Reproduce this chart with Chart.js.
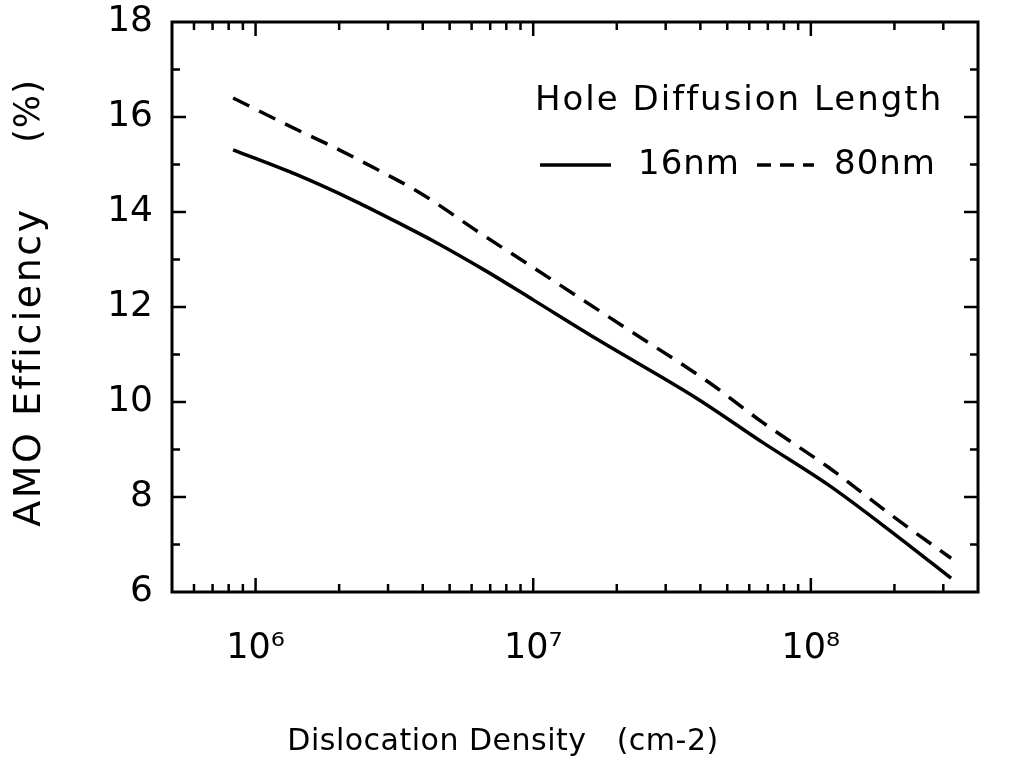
<!DOCTYPE html>
<html lang="en">
<head>
<meta charset="UTF-8">
<title>AMO Efficiency vs Dislocation Density</title>
<script src="https://cdn.jsdelivr.net/npm/chart.js"></script>
<style>
    html, body { margin: 0; padding: 0; background: #fff; }
    canvas { display: block; }
</style>
</head>
<body>
<canvas id="chart" width="1015" height="763"></canvas>
<script>
// data
const density16 = [8.3e5, 1.4e6, 2.3e6, 3.3e6, 4.4e6, 6.8e6, 1.0e7, 1.7e7, 3.9e7, 6.7e7, 1.16e8, 2.0e8, 3.2e8];
const eff16 = [15.31, 14.79, 14.22, 13.76, 13.38, 12.75, 12.15, 11.32, 10.07, 9.15, 8.25, 7.22, 6.29];

const density80 = [8.3e5, 1.46e6, 1.83e6, 2.69e6, 3.94e6, 6.46e6, 1.0e7, 2.1e7, 4.3e7, 6.7e7, 1.16e8, 2.0e8, 3.2e8];
const eff80 = [16.40, 15.69, 15.42, 14.92, 14.39, 13.55, 12.83, 11.60, 10.41, 9.57, 8.62, 7.57, 6.71];

const xTickValues = [1e6, 1e7, 1e8];
const xTickLabels = ['10⁶', '10⁷', '10⁸'];
const yTickValues = [6, 8, 10, 12, 14, 16, 18];

const seriesNames = ['16nm', '80nm'];
const legendTitle = 'Hole Diffusion Length';
const xTitle = 'Dislocation Density\u00A0\u00A0\u00A0(cm-2)';
const yTitle = ['AMO Efficiency', '(%)'];

const FONT = '"DejaVu Sans", Arial, sans-serif';

// inward tick marks, frame, legend and axis titles
const framePlugin = {
    id: 'frame',
    afterDraw(chart) {
        const ctx = chart.ctx;
        const { left, right, top, bottom } = chart.chartArea;
        const xs = chart.scales.x;
        const ys = chart.scales.y;
        ctx.save();
        ctx.strokeStyle = '#000';
        ctx.lineWidth = 3;
        ctx.strokeRect(left, top, right - left, bottom - top);

        ctx.lineWidth = 2.5;
        ctx.beginPath();
        for (let e = 5; e <= 8; e++) {
            for (let k = 1; k <= 9; k++) {
                const v = k * Math.pow(10, e);
                if (v <= xs.min || v >= xs.max) continue;
                const px = xs.getPixelForValue(v);
                const len = k === 1 ? 14 : 8;
                ctx.moveTo(px, bottom);
                ctx.lineTo(px, bottom - len);
                ctx.moveTo(px, top);
                ctx.lineTo(px, top + len);
            }
        }
        for (let v = ys.min + 1; v < ys.max; v++) {
            const py = ys.getPixelForValue(v);
            const len = v % 2 === 0 ? 14 : 8;
            ctx.moveTo(left, py);
            ctx.lineTo(left + len, py);
            ctx.moveTo(right, py);
            ctx.lineTo(right - len, py);
        }
        ctx.stroke();

        // legend
        ctx.fillStyle = '#000';
        ctx.font = '34px ' + FONT;
        ctx.letterSpacing = '2px';
        ctx.textBaseline = 'middle';
        ctx.textAlign = 'left';
        ctx.fillText(legendTitle, 535, 101);
        ctx.letterSpacing = '1px';
        ctx.lineWidth = 3.5;
        ctx.setLineDash([]);
        ctx.beginPath();
        ctx.moveTo(540, 165);
        ctx.lineTo(611, 165);
        ctx.stroke();
        ctx.fillText(seriesNames[0], 638, 165);
        ctx.setLineDash([14, 9]);
        ctx.beginPath();
        ctx.moveTo(757, 165);
        ctx.lineTo(814, 165);
        ctx.stroke();
        ctx.setLineDash([]);
        ctx.fillText(seriesNames[1], 834, 165);

        // x axis title
        ctx.font = '30px ' + FONT;
        ctx.letterSpacing = '0.5px';
        ctx.textAlign = 'center';
        ctx.fillText(xTitle, 503, 742);

        // y axis title, rotated
        ctx.font = '38px ' + FONT;
        ctx.letterSpacing = '2.5px';
        ctx.translate(30, 0);
        ctx.rotate(-Math.PI / 2);
        ctx.fillText(yTitle[0], -367, 0);
        ctx.font = '35px ' + FONT;
        ctx.letterSpacing = '1px';
        ctx.fillText(yTitle[1], -111, 0);
        ctx.restore();
    }
};

new Chart(document.getElementById('chart'), {
    type: 'line',
    data: {
        datasets: [
            {
                label: seriesNames[0],
                data: density16.map((d, i) => ({ x: d, y: eff16[i] })),
                borderColor: '#000',
                borderWidth: 3.5,
                pointRadius: 0,
                cubicInterpolationMode: 'monotone',
                fill: false
            },
            {
                label: seriesNames[1],
                data: density80.map((d, i) => ({ x: d, y: eff80[i] })),
                borderColor: '#000',
                borderWidth: 3.5,
                borderDash: [18, 11],
                pointRadius: 0,
                cubicInterpolationMode: 'monotone',
                fill: false
            }
        ]
    },
    options: {
        responsive: false,
        animation: false,
        devicePixelRatio: 1,
        layout: { padding: { left: 0, right: 37, top: 22, bottom: 0 } },
        plugins: {
            legend: { display: false },
            tooltip: { enabled: false }
        },
        scales: {
            x: {
                type: 'logarithmic',
                min: 5e5,
                max: 4e8,
                grid: { display: false },
                border: { display: false },
                afterBuildTicks(scale) {
                    scale.ticks = xTickValues.map(v => ({ value: v }));
                },
                afterFit(scale) {
                    scale.height = 171;
                    scale.paddingLeft = 0;
                    scale.paddingRight = 0;
                },
                ticks: {
                    color: '#000',
                    font: { family: FONT, size: 35 },
                    padding: 28,
                    maxRotation: 0,
                    autoSkip: false,
                    callback(value) {
                        const i = xTickValues.indexOf(value);
                        return i >= 0 ? xTickLabels[i] : '';
                    }
                }
            },
            y: {
                min: 6,
                max: 18,
                grid: { display: false },
                border: { display: false },
                afterBuildTicks(scale) {
                    scale.ticks = yTickValues.map(v => ({ value: v }));
                },
                afterFit(scale) {
                    scale.width = 172;
                    scale.paddingTop = 0;
                    scale.paddingBottom = 0;
                },
                ticks: {
                    color: '#000',
                    font: { family: FONT, size: 36 },
                    padding: 11
                }
            }
        }
    },
    plugins: [framePlugin]
});
</script>
</body>
</html>
